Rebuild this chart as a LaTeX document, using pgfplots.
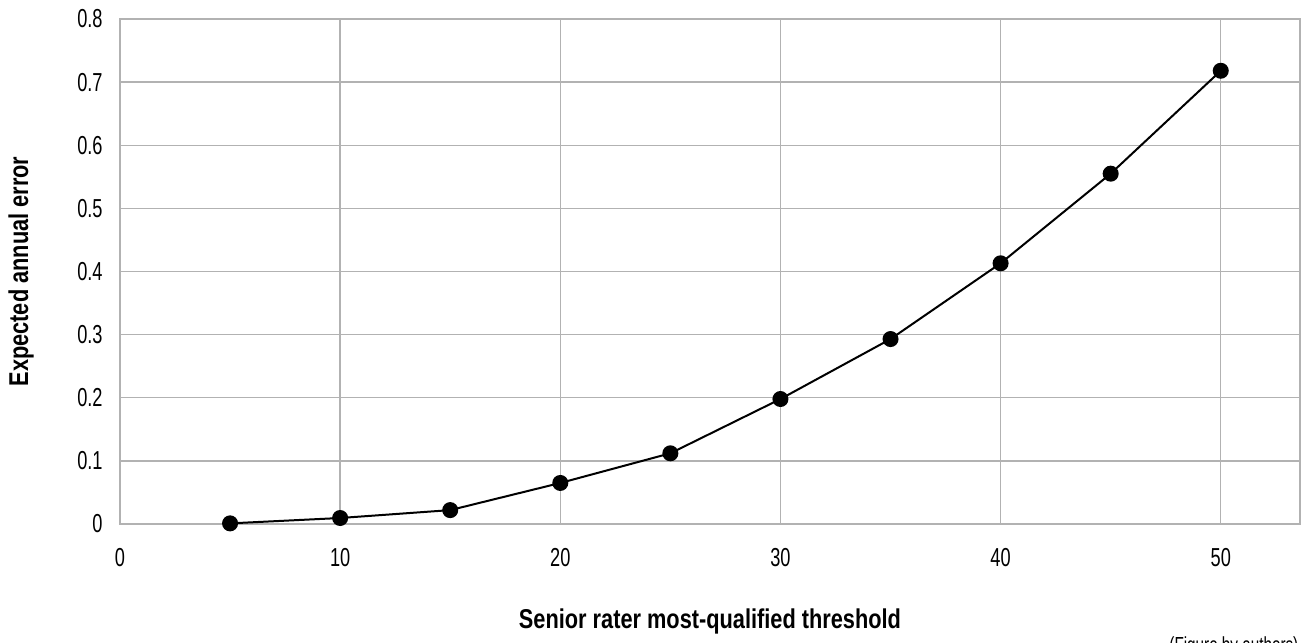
\documentclass[border=0pt]{standalone}
\usepackage{fontspec}
\setmainfont{Liberation Sans}[FakeStretch=0.8]
\newfontfamily\tickfont{Liberation Sans}[FakeStretch=0.7]
\usepackage{pgfplots}
\pgfplotsset{compat=1.18}
\definecolor{gridgray}{RGB}{178,178,178}

\begin{document}
\begin{tikzpicture}
\begin{axis}[
	scale only axis,
	width=590pt, height=252.5pt,
	xmin=0, xmax=53.6,
	ymin=0, ymax=0.8,
	xtick={0,10,20,30,40,50},
	ytick={0,0.1,0.2,0.3,0.4,0.5,0.6,0.7,0.8},
	yticklabels={0,0.1,0.2,0.3,0.4,0.5,0.6,0.7,0.8},
	grid=major,
	grid style={draw=gridgray, line width=0.7pt},
	axis line style={draw=gridgray, line width=0.7pt},
	major tick length=0pt,
	/pgf/number format/assume math mode=true,
	ticklabel style={font=\tickfont\fontsize{13}{15}\selectfont, inner sep=0pt},
	yticklabel style={anchor=east, xshift=-8.5pt},
	xticklabel style={anchor=north, yshift=-12pt},
	xlabel={Senior rater most-qualified threshold},
	ylabel={Expected annual error},
	label style={font=\bfseries\fontsize{13.6}{15}\selectfont},
	xlabel style={at={(axis description cs:0.5,-0.207)}, anchor=base},
	ylabel style={at={(axis description cs:-0.0839,0.5)}, anchor=center},
	clip=false,
]
\addplot[black, line width=1pt, mark=*, mark size=3.5pt] coordinates {
	(5, 0.001)
	(10, 0.0095)
	(15, 0.022)
	(20, 0.065)
	(25, 0.112)
	(30, 0.198)
	(35, 0.293)
	(40, 0.413)
	(45, 0.555)
	(50, 0.718)
};
\node[anchor=base west, inner sep=0pt, font=\tickfont\fontsize{10.9}{12}\selectfont]
	at (axis description cs:0.889,-0.2554) {(Figure by authors)};
\end{axis}
\pgfresetboundingbox
\path[use as bounding box] (-60pt,-59.5pt) rectangle (594pt,262pt);
\end{tikzpicture}
\end{document}
